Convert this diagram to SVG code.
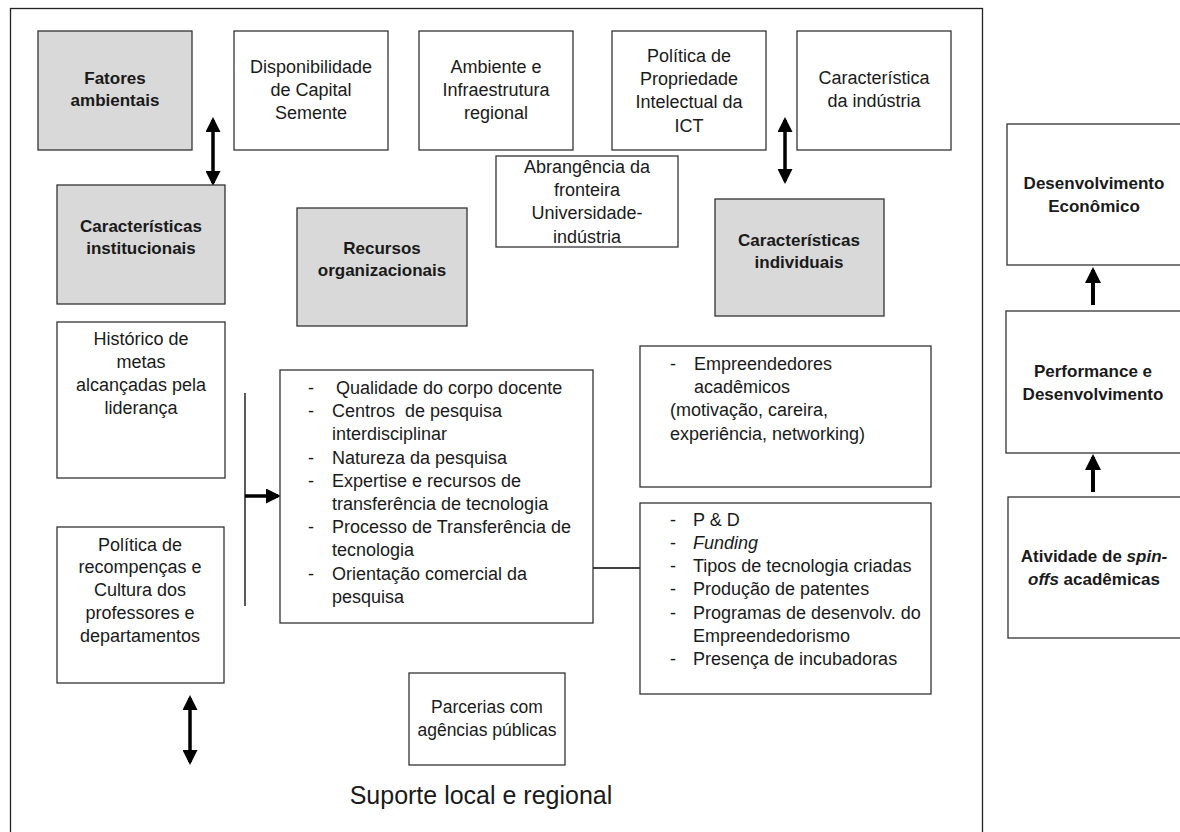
<svg xmlns="http://www.w3.org/2000/svg" width="1180" height="832" viewBox="0 0 1180 832">
<defs>
<style>
.box{fill:#fff;stroke:#333;stroke-width:1.3}
.gray{fill:#d9d9d9;stroke:#333;stroke-width:1.3}
text{font-family:"Liberation Sans",Arial,sans-serif;font-size:18px;fill:#1a1a1a}
.c{text-anchor:middle}
.b{font-weight:bold;font-size:17px}
.sm{font-size:17.5px}
.big{font-size:25px}
.conn{stroke:#000;fill:none}
.thick{stroke-width:3.5}
</style>
<marker id="ah" markerUnits="userSpaceOnUse" markerWidth="15" markerHeight="15" refX="12" refY="7.5" orient="auto-start-reverse" viewBox="0 0 15 15">
<path d="M0,0 L15,7.5 L0,15 z" fill="#000"/>
</marker>
<marker id="ahb" markerUnits="userSpaceOnUse" markerWidth="16" markerHeight="16" refX="13" refY="8" orient="auto-start-reverse" viewBox="0 0 16 16">
<path d="M0,0 L16,8 L0,16 z" fill="#000"/>
</marker>
</defs>
<rect x="0" y="0" width="1180" height="832" fill="#fff"/>
<rect x="10.5" y="8.5" width="972" height="840" fill="none" stroke="#222" stroke-width="1.3"/>

<g id="connectors">
<line class="conn thick" x1="213" y1="120" x2="213" y2="183" marker-start="url(#ah)" marker-end="url(#ah)"/>
<line class="conn thick" x1="785" y1="120" x2="785" y2="181" marker-start="url(#ah)" marker-end="url(#ah)"/>
<line class="conn thick" x1="190" y1="698" x2="190" y2="762" marker-start="url(#ah)" marker-end="url(#ah)"/>
<line class="conn" stroke-width="1.3" x1="245" y1="393" x2="245" y2="606"/>
<line class="conn thick" x1="245" y1="496" x2="278" y2="496" marker-end="url(#ah)"/>
<line class="conn" stroke-width="1.3" x1="593" y1="568" x2="640" y2="568"/>
<line class="conn" stroke-width="4" x1="1093" y1="305" x2="1093" y2="270" marker-end="url(#ahb)"/>
<line class="conn" stroke-width="4" x1="1093" y1="492" x2="1093" y2="457" marker-end="url(#ahb)"/>
</g>

<g id="fatores-ambientais">
<rect class="gray" x="38" y="31" width="154" height="119"/>
<text class="c b" x="115" y="84">Fatores</text>
<text class="c b" x="115" y="106">ambientais</text>
</g>
<g id="capital-semente">
<rect class="box" x="234" y="31" width="154" height="119"/>
<text class="c" x="311" y="73">Disponibilidade</text>
<text class="c" x="311" y="96">de Capital</text>
<text class="c" x="311" y="119">Semente</text>
</g>
<g id="ambiente-infraestrutura">
<rect class="box" x="419" y="31" width="154" height="119"/>
<text class="c" x="496" y="73">Ambiente e</text>
<text class="c" x="496" y="96">Infraestrutura</text>
<text class="c" x="496" y="119">regional</text>
</g>
<g id="politica-pi">
<rect class="box" x="612" y="31" width="154" height="119"/>
<text class="c" x="689" y="62">Política de</text>
<text class="c" x="689" y="85">Propriedade</text>
<text class="c" x="689" y="108">Intelectual da</text>
<text class="c" x="689" y="132">ICT</text>
</g>
<g id="caracteristica-industria">
<rect class="box" x="797" y="31" width="154" height="119"/>
<text class="c" x="874" y="84">Característica</text>
<text class="c" x="874" y="107">da indústria</text>
</g>
<g id="abrangencia">
<rect class="box" x="496" y="156" width="182" height="91"/>
<text class="c" x="587" y="173">Abrangência da</text>
<text class="c" x="587" y="196">fronteira</text>
<text class="c" x="587" y="219">Universidade-</text>
<text class="c" x="587" y="243">indústria</text>
</g>
<g id="caracteristicas-institucionais">
<rect class="gray" x="57" y="185" width="168" height="119"/>
<text class="c b" x="141" y="232">Características</text>
<text class="c b" x="141" y="254">institucionais</text>
</g>
<g id="recursos-organizacionais">
<rect class="gray" x="297" y="208" width="170" height="118"/>
<text class="c b" x="382" y="254">Recursos</text>
<text class="c b" x="382" y="276">organizacionais</text>
</g>
<g id="caracteristicas-individuais">
<rect class="gray" x="715" y="199" width="169" height="117"/>
<text class="c b" x="799" y="246">Características</text>
<text class="c b" x="799" y="268">individuais</text>
</g>
<g id="historico">
<rect class="box" x="57" y="322" width="168" height="156"/>
<text class="c" x="141" y="345">Histórico de</text>
<text class="c" x="141" y="368">metas</text>
<text class="c" x="141" y="391">alcançadas pela</text>
<text class="c" x="141" y="414">liderança</text>
</g>
<g id="politica-recompencas">
<rect class="box" x="57" y="527" width="167" height="156"/>
<text class="c" x="140" y="551">Política de</text>
<text class="c" x="140" y="573">recompenças e</text>
<text class="c" x="140" y="596">Cultura dos</text>
<text class="c" x="140" y="619">professores e</text>
<text class="c" x="140" y="642">departamentos</text>
</g>
<g id="recursos-lista">
<rect class="box" x="280" y="370" width="313" height="253"/>
<text x="308" y="394">-</text><text x="336" y="394">Qualidade do corpo docente</text>
<text x="308" y="417">-</text><text x="332" y="417">Centros&#160; de pesquisa</text>
<text x="332" y="440">interdisciplinar</text>
<text x="308" y="464">-</text><text x="332" y="464">Natureza da pesquisa</text>
<text x="308" y="487">-</text><text x="332" y="487">Expertise e recursos de</text>
<text x="332" y="510">transferência de tecnologia</text>
<text x="308" y="533">-</text><text x="332" y="533">Processo de Transferência de</text>
<text x="332" y="556">tecnologia</text>
<text x="308" y="580">-</text><text x="332" y="580">Orientação comercial da</text>
<text x="332" y="603">pesquisa</text>
</g>
<g id="empreendedores">
<rect class="box" x="640" y="346" width="291" height="141"/>
<text x="670" y="370">-</text><text x="694" y="370">Empreendedores</text>
<text x="694" y="393">acadêmicos</text>
<text x="670" y="416">(motivação, careira,</text>
<text x="670" y="440">experiência, networking)</text>
</g>
<g id="pd-lista">
<rect class="box" x="640" y="503" width="291" height="191"/>
<text x="670" y="526">-</text><text x="693" y="526">P &amp; D</text>
<text x="670" y="549">-</text><text x="693" y="549" font-style="italic">Funding</text>
<text x="670" y="572">-</text><text x="693" y="572">Tipos de tecnologia criadas</text>
<text x="670" y="595">-</text><text x="693" y="595">Produção de patentes</text>
<text x="670" y="619">-</text><text x="693" y="619">Programas de desenvolv. do</text>
<text x="693" y="642">Empreendedorismo</text>
<text x="670" y="665">-</text><text x="693" y="665">Presença de incubadoras</text>
</g>
<g id="parcerias">
<rect class="box" x="409" y="673" width="156" height="92"/>
<text class="c sm" x="487" y="713">Parcerias com</text>
<text class="c sm" x="487" y="736">agências públicas</text>
</g>
<g id="suporte-label">
<text class="c big" x="481" y="804">Suporte local e regional</text>
</g>
<g id="desenvolvimento-economico">
<rect class="box" x="1007" y="124" width="180" height="141"/>
<text class="c b" x="1094" y="189">Desenvolvimento</text>
<text class="c b" x="1094" y="212">Econômico</text>
</g>
<g id="performance">
<rect class="box" x="1006" y="311" width="180" height="142"/>
<text class="c b" x="1093" y="377">Performance e</text>
<text class="c b" x="1093" y="400">Desenvolvimento</text>
</g>
<g id="atividade-spinoffs">
<rect class="box" x="1008" y="497" width="180" height="141"/>
<text class="c b" x="1094" y="562">Atividade de <tspan font-style="italic">spin-</tspan></text>
<text class="c b" x="1094" y="585"><tspan font-style="italic">offs</tspan> acadêmicas</text>
</g>
</svg>
